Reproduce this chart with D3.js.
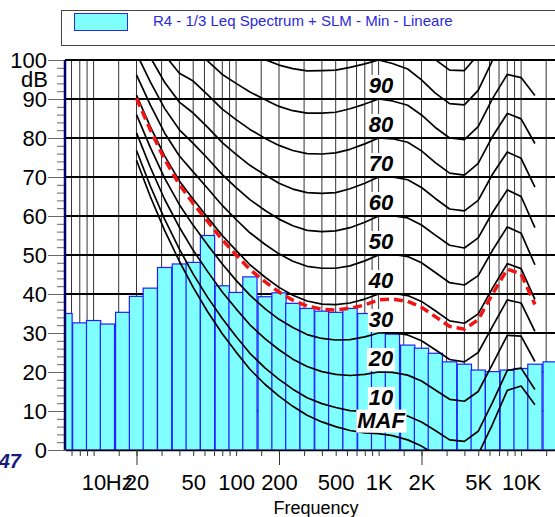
<!DOCTYPE html>
<html>
<head>
<meta charset="utf-8">
<script src="https://cdn.jsdelivr.net/npm/d3@7"></script>
<style>
  body { margin: 0; background: #fff; }
  svg { display: block; font-family: "Liberation Sans", Arial, Helvetica, sans-serif; }
</style>
</head>
<body>
<svg id="chart" width="555" height="517"></svg>
<script>
// measured 1/3 octave spectrum (dB)
let bandFreq = [6.3, 8, 10, 12.5, 16, 20, 25, 31.5, 40, 50, 63, 80, 100, 125, 160, 200, 250, 315, 400, 500, 630, 800, 1000, 1250, 1600, 2000, 2500, 3150, 4000, 5000, 6300, 8000, 10000, 12500, 16000]
let bandLeq = [35.0, 32.6, 33.2, 32.3, 35.3, 39.4, 41.5, 46.8, 47.7, 48.1, 55.0, 42.1, 40.4, 44.4, 39.3, 40.3, 37.6, 36.3, 35.6, 35.3, 36.3, 35.0, 30.4, 29.7, 26.9, 26.1, 24.8, 22.6, 22.0, 20.5, 20.1, 20.5, 20.9, 22.0, 22.6]

// equal loudness contours (dB at each frequency)
let isoFreq = [20, 25, 31.5, 40, 50, 63, 80, 100, 125, 160, 200, 250, 315, 400, 500, 630, 800, 1000, 1250, 1600, 2000, 2500, 3150, 4000, 5000, 6300, 8000, 10000, 12500]
let maf = [74.3, 65.0, 56.3, 48.4, 41.7, 35.5, 29.8, 25.1, 20.7, 16.8, 13.8, 11.2, 8.9, 7.2, 6.0, 5.0, 4.4, 4.2, 3.7, 2.6, 1.0, -1.2, -3.6, -3.9, -1.1, 6.6, 15.3, 16.4, 11.6]
let p10 = [76.8, 67.7, 59.2, 51.5, 45.1, 39.2, 33.7, 29.1, 24.8, 21.0, 18.1, 15.6, 13.4, 11.9, 10.9, 10.1, 9.9, 10.0, 9.7, 8.7, 7.2, 5.0, 2.6, 2.2, 4.8, 12.2, 20.4, 21.0, 15.5]
let p20 = [81.3, 72.5, 64.3, 57.1, 51.2, 45.8, 40.5, 36.2, 32.1, 28.5, 25.7, 23.3, 21.4, 20.1, 19.4, 19.1, 19.4, 20.0, 19.9, 19.2, 17.7, 15.4, 13.0, 12.5, 15.0, 22.0, 29.4, 29.2, 22.7]
let p30 = [86.0, 77.6, 69.7, 62.9, 57.6, 52.6, 47.7, 43.5, 39.7, 36.2, 33.5, 31.4, 29.6, 28.6, 28.2, 28.3, 29.0, 30.0, 30.1, 29.5, 28.0, 25.7, 23.2, 22.6, 25.0, 31.7, 38.5, 37.7, 30.4]
let p40 = [91.0, 82.9, 75.4, 69.0, 64.3, 59.7, 55.0, 51.2, 47.5, 44.3, 41.7, 39.7, 38.2, 37.4, 37.3, 37.7, 38.7, 40.0, 40.2, 39.6, 38.1, 35.7, 33.1, 32.5, 34.9, 41.5, 47.8, 46.5, 38.6]
let p50 = [96.2, 88.5, 81.3, 75.4, 71.3, 67.1, 62.7, 59.1, 55.7, 52.7, 50.3, 48.4, 47.1, 46.6, 46.6, 47.2, 48.5, 50.0, 50.2, 49.6, 48.0, 45.5, 42.9, 42.3, 44.7, 51.2, 57.2, 55.6, 47.5]
let p60 = [101.7, 94.4, 87.6, 82.1, 78.6, 74.8, 70.6, 67.3, 64.2, 61.4, 59.2, 57.5, 56.3, 56.0, 56.2, 57.0, 58.4, 60.0, 60.1, 59.5, 57.7, 55.1, 52.5, 51.8, 54.4, 60.9, 66.7, 65.0, 57.0]
let p70 = [107.6, 100.7, 94.3, 89.2, 86.4, 82.8, 78.8, 75.8, 73.0, 70.5, 68.4, 66.9, 66.0, 65.8, 66.0, 67.0, 68.4, 70.0, 70.0, 69.3, 67.3, 64.5, 61.8, 61.3, 64.0, 70.7, 76.4, 74.8, 67.4]
let p80 = [113.7, 107.3, 101.3, 96.6, 94.6, 91.1, 87.4, 84.7, 82.2, 79.9, 78.1, 76.8, 76.0, 75.9, 76.2, 77.1, 78.5, 80.0, 79.8, 78.9, 76.7, 73.7, 71.0, 70.5, 73.5, 80.4, 86.3, 84.9, 78.6]
let p90 = [120.3, 114.4, 108.7, 104.4, 103.2, 99.8, 96.3, 94.0, 91.8, 89.8, 88.1, 87.0, 86.4, 86.4, 86.6, 87.5, 88.7, 90.0, 89.5, 88.4, 85.9, 82.7, 80.0, 79.6, 82.9, 90.1, 96.3, 95.5, 90.9]
let p100 = [127.2, 121.9, 116.6, 112.6, 112.3, 108.9, 105.6, 103.6, 101.8, 100.1, 98.7, 97.8, 97.2, 97.3, 97.4, 98.1, 99.0, 100.0, 99.1, 97.7, 94.9, 91.5, 88.8, 88.5, 92.2, 99.9, 106.6, 106.4, 104.3]
let p110 = [134.6, 129.8, 125.0, 121.3, 121.9, 118.4, 115.3, 113.7, 112.3, 110.9, 109.7, 109.0, 108.6, 108.6, 108.6, 109.0, 109.5, 110.0, 108.6, 106.9, 103.8, 100.1, 97.4, 97.3, 101.4, 109.6, 117.0, 117.9, 119.0]
// loudness curve of the spectrum (red dashed)
let loudness = [90.2, 82.1, 74.5, 68.1, 63.2, 58.7, 53.9, 50.0, 46.3, 43.1, 40.5, 38.4, 36.9, 36.1, 35.9, 36.3, 37.2, 38.5, 38.7, 38.1, 36.6, 34.2, 31.7, 31.0, 33.4, 40.0, 46.4, 45.1, 37.3]

let labelledCurves = [p90, p80, p70, p60, p50, p40, p30, p20, p10, maf]
let curveLabels = ['90', '80', '70', '60', '50', '40', '30', '20', '10', 'MAF']

// axis ticks
let dbTicks = [0, 10, 20, 30, 40, 50, 60, 70, 80, 90, 100]
let dbMinor = [2, 4, 6, 8, 12, 14, 16, 18, 22, 24, 26, 28, 32, 34, 36, 38, 42, 44, 46, 48, 52, 54, 56, 58, 62, 64, 66, 68, 72, 74, 76, 78, 82, 84, 86, 88, 92, 94, 96, 98]
let freqTicks = [7, 8, 9, 10, 15, 20, 30, 40, 50, 60, 70, 80, 90, 100, 150, 200, 300, 400, 500, 600, 700, 800, 900, 1000, 1500, 2000, 3000, 4000, 5000, 6000, 7000, 8000, 9000, 10000, 15000]
let longTicks = [20, 200, 2000]
let freqLabelValues = [10, 20, 50, 100, 200, 500, 1000, 2000, 5000, 10000]
let freqLabels = ['10', '20', '50', '100', '200', '500', '1K', '2K', '5K', '10K']
let legendLabel = 'R4 - 1/3 Leq Spectrum + SLM - Min - Lineare'

let chart = d3.select('#chart')
let plotLeft = 65
let plotTop = 60
let plotBottom = 450
let plotRight = 564
let fontFamily = '"Liberation Sans", Arial, Helvetica, sans-serif'

let x = d3.scaleLog().domain([6.3, 20000]).range([plotLeft, plotRight])
let y = d3.scaleLinear().domain([0, 100]).range([plotBottom, plotTop])

// legend
chart.append('rect')
    .attr('x', 61.5).attr('y', 10.5)
    .attr('width', 540).attr('height', 35)
    .attr('fill', '#fff').attr('stroke', '#444')
chart.append('rect')
    .attr('x', 74.5).attr('y', 13.5)
    .attr('width', 53).attr('height', 17)
    .attr('fill', '#80ffff').attr('stroke', '#2a2ae6')
chart.append('text')
    .attr('x', 153).attr('y', 26)
    .attr('font-size', 15)
    .attr('fill', '#2a2ad9')
    .text(legendLabel)

chart.append('clipPath').attr('id', 'plot-clip')
    .append('rect')
    .attr('x', plotLeft).attr('y', plotTop - 1)
    .attr('width', plotRight - plotLeft).attr('height', plotBottom - plotTop + 1)

// grid
let grid = chart.append('g')
grid.selectAll('.vgrid')
    .data(freqTicks)
    .enter()
    .append('line')
    .attr('class', 'vgrid')
    .attr('x1', (d) => x(d)).attr('x2', (d) => x(d))
    .attr('y1', plotTop).attr('y2', plotBottom)
    .attr('stroke', '#333')
    .attr('stroke-width', 1)
grid.selectAll('.hgrid')
    .data(dbTicks.slice(1))
    .enter()
    .append('line')
    .attr('class', 'hgrid')
    .attr('x1', plotLeft).attr('x2', 555)
    .attr('y1', (d) => y(d)).attr('y2', (d) => y(d))
    .attr('stroke', '#000')
    .attr('stroke-width', 2)

let plot = chart.append('g').attr('clip-path', 'url(#plot-clip)')

// spectrum bars, one third of an octave wide
let half = Math.pow(10, 0.05)
plot.append('g')
    .selectAll('rect')
    .data(bandFreq)
    .enter()
    .append('rect')
    .attr('x', (d) => x(d / half))
    .attr('width', (d) => x(d * half) - x(d / half))
    .attr('y', (d, i) => y(bandLeq[i]))
    .attr('height', (d, i) => y(0) - y(bandLeq[i]))
    .attr('fill', '#80ffff')
    .attr('stroke', '#1f1fff')
    .attr('stroke-width', 1.2)

// contours
let line = d3.line()
    .x((d, i) => x(isoFreq[i]))
    .y((d) => y(d))

plot.append('g')
    .selectAll('path')
    .data([maf, p10, p20, p30, p40, p50, p60, p70, p80, p90, p100, p110])
    .enter()
    .append('path')
    .attr('d', line)
    .attr('fill', 'none')
    .attr('stroke', '#000')
    .attr('stroke-width', 1.7)
    .attr('stroke-linejoin', 'round')

plot.append('path')
    .attr('d', line(loudness))
    .attr('fill', 'none')
    .attr('stroke', '#f01414')
    .attr('stroke-width', 3.5)
    .attr('stroke-dasharray', '9,5')

// contour labels at 1 kHz
let at1k = isoFreq.indexOf(1000)
let labels = chart.append('g')
    .selectAll('g')
    .data(labelledCurves)
    .enter()
    .append('g')
labels.append('rect').attr('fill', '#fff')
labels.append('text')
    .attr('x', x(1000) + 2.5)
    .attr('y', (d) => y(d[at1k]) - 6)
    .attr('text-anchor', 'middle')
    .attr('font-size', 22)
    .attr('font-weight', 'bold')
    .attr('font-style', 'italic')
    .attr('fill', '#000')
    .text((d, i) => curveLabels[i])
labels.each(function () {
    let g = d3.select(this)
    let b = g.select('text').node().getBBox()
    g.select('rect')
        .attr('x', b.x - 1).attr('y', b.y + 2)
        .attr('width', b.width + 2).attr('height', b.height - 2)
})

// y axis
let yAxis = chart.append('g')
    .attr('transform', 'translate(' + plotLeft + ',0)')
    .call(d3.axisLeft(y).tickValues(dbTicks).tickSize(17).tickPadding(1))
yAxis.attr('font-size', 22).attr('font-family', fontFamily)
yAxis.select('.domain').remove()
yAxis.selectAll('.tick line').attr('stroke', '#666')
yAxis.selectAll('.tick text').attr('fill', '#000')

let yMinor = chart.append('g')
    .attr('transform', 'translate(' + plotLeft + ',0)')
    .call(d3.axisLeft(y).tickValues(dbMinor).tickSize(8).tickFormat(''))
yMinor.select('.domain').remove()
yMinor.selectAll('.tick line').attr('stroke', '#666')

chart.append('text')
    .attr('x', 48).attr('y', 87)
    .attr('text-anchor', 'end')
    .attr('font-size', 22)
    .text('dB')

chart.append('line')
    .attr('x1', plotLeft).attr('x2', plotLeft)
    .attr('y1', plotTop).attr('y2', plotBottom)
    .attr('stroke', '#00006e')
    .attr('stroke-width', 2.5)

// x axis
let xAxis = chart.append('g')
    .attr('transform', 'translate(0,' + plotBottom + ')')
    .call(d3.axisBottom(x).tickValues(freqTicks).tickSize(6).tickSizeOuter(0).tickFormat(''))
xAxis.select('.domain').attr('stroke', '#000').attr('stroke-width', 1.5)
xAxis.selectAll('.tick line').attr('stroke', '#333')

let xLong = chart.append('g')
    .attr('transform', 'translate(0,' + plotBottom + ')')
    .call(d3.axisBottom(x).tickValues(longTicks).tickSize(15).tickFormat(''))
xLong.select('.domain').remove()
xLong.selectAll('.tick line').attr('stroke', '#333')

let xLabels = chart.append('g')
    .attr('transform', 'translate(0,' + plotBottom + ')')
    .call(d3.axisBottom(x).tickValues(freqLabelValues).tickSize(0).tickPadding(24)
        .tickFormat((d) => freqLabels[freqLabelValues.indexOf(d)]))
xLabels.attr('font-size', 22).attr('font-family', fontFamily)
xLabels.select('.domain').remove()
xLabels.selectAll('.tick text').attr('fill', '#000')

chart.append('text')
    .attr('x', x(10) + 12.2).attr('y', 490)
    .attr('font-size', 22)
    .text('Hz')

chart.append('text')
    .attr('x', 316).attr('y', 514)
    .attr('text-anchor', 'middle')
    .attr('font-size', 18)
    .text('Frequency')

chart.append('text')
    .attr('x', 21).attr('y', 468)
    .attr('text-anchor', 'end')
    .attr('font-size', 20)
    .attr('font-weight', 'bold')
    .attr('font-style', 'italic')
    .attr('fill', '#1a1a80')
    .text('47')
</script>
</body>
</html>
